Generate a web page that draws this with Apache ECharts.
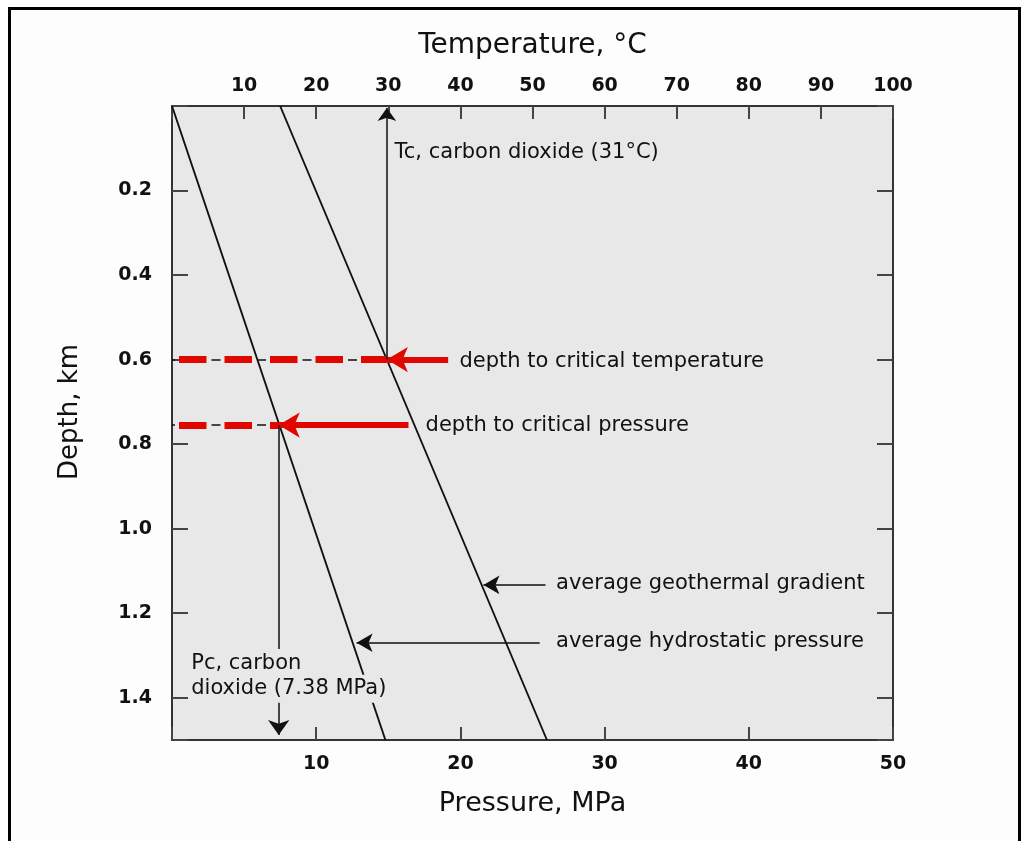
<!DOCTYPE html>
<html>
<head>
<meta charset="utf-8">
<script src="https://cdn.jsdelivr.net/npm/echarts@6/dist/echarts.min.js"></script>
<style>
html,body{margin:0;padding:0;background:#ffffff;}
#frame{position:absolute;left:8px;top:7px;width:1007px;height:900px;border:3px solid #000;border-bottom:none;background:#fdfdfd;}
#chart{position:absolute;left:0;top:0;width:1029px;height:841px;}
</style>
</head>
<body>
<div id="frame"></div>
<div id="chart"></div>
<script>
// ---------- data ----------
const pressureRange = [0, 50];          // MPa (bottom axis)
const pressureStep = 10;
const pressureLabels = [10, 20, 30, 40, 50];
const temperatureRange = [0, 100];      // °C (top axis)
const temperatureStep = 10;
const temperatureLabels = [10, 20, 30, 40, 50, 60, 70, 80, 90, 100];
const depthRange = [0, 1.5];            // km (left axis, downward)
const depthStep = 0.2;
const depthLabels = ['0.2', '0.4', '0.6', '0.8', '1.0', '1.2', '1.4'];

// average hydrostatic pressure line (pressure vs depth)
const hydroPressure = [0, 14.8];
const hydroDepth = [0, 1.5];
// average geothermal gradient line (temperature vs depth)
const geoTemperature = [15, 52];
const geoDepth = [0, 1.5];

// critical temperature crossing
const tcTemperature = 29.8;
const tcDepth = 0.6;
// critical pressure crossing
const pcPressure = 7.4;
const pcDepth = 0.755;

// red arrows (start -> tip)
const redArrowTemperature = [38.3, 29.8];   // at depth tcDepth, temperature axis
const redArrowPressure = [16.4, 7.4];       // at depth pcDepth, pressure axis
// black arrows
const tcArrowDepth = [0.6, 0.005];          // vertical at tcTemperature
const pcArrowDepth = [0.755, 1.488];        // vertical at pcPressure
const geoArrowPressure = [25.9, 21.6];
const geoArrowDepth = 1.133;
const hydroArrowPressure = [25.5, 12.8];
const hydroArrowDepth = 1.27;

// annotation texts and their anchors (pressure, depth)
const noteTexts = [
  'Tc, carbon dioxide (31°C)',
  'depth to critical temperature',
  'depth to critical pressure',
  'average geothermal gradient',
  'average hydrostatic pressure'
];
const notePressure = [15.4, 19.9, 17.55, 26.6, 26.6];
const noteDepth = [0.111, 0.605, 0.757, 1.131, 1.268];
const pcNoteTexts = ['Pc, carbon', 'dioxide (7.38 MPa)'];
const pcNotePressure = [1.3, 1.3];
const pcNoteDepth = [1.318, 1.379];

// ---------- chart ----------
const FONT = 'DejaVu Sans';
const INK = '#111111';
const AXIS = '#333333';
const RED = '#e10600';

const chart = echarts.init(document.getElementById('chart'), null, {renderer: 'canvas'});

function axisCommon(extra) {
  return Object.assign({
    type: 'value',
    axisLine: {show: true, onZero: false, lineStyle: {color: AXIS, width: 2}},
    axisTick: {show: true, inside: true, length: 13, lineStyle: {color: '#444', width: 2}},
    splitLine: {show: false},
    nameMoveOverlap: false,
    nameLocation: 'middle'
  }, extra);
}
const labelStyle = {fontFamily: FONT, fontWeight: 'bold', fontSize: 19, color: INK};

function pair(a, b) { return [{coord: a}, {coord: b}]; }
const arrowEnd = (size) => ({symbol: 'arrow', symbolSize: size});

const option = {
  animation: false,
  grid: {left: 172, top: 106, width: 721, height: 634, show: true, backgroundColor: '#e8e8e8', borderWidth: 0},
  xAxis: [
    axisCommon({
      position: 'bottom', min: pressureRange[0], max: pressureRange[1], interval: pressureStep,
      name: 'Pressure, MPa', nameGap: 50,
      nameTextStyle: {fontFamily: FONT, fontSize: 27, color: INK},
      axisLabel: Object.assign({margin: 15, formatter: v => pressureLabels.includes(Math.round(v)) ? String(Math.round(v)) : ''}, labelStyle)
    }),
    axisCommon({
      position: 'top', min: temperatureRange[0], max: temperatureRange[1], interval: temperatureStep,
      name: 'Temperature, °C', nameGap: 46,
      nameTextStyle: {fontFamily: FONT, fontSize: 28, color: INK},
      axisLabel: Object.assign({margin: 10, formatter: v => temperatureLabels.includes(Math.round(v)) ? String(Math.round(v)) : ''}, labelStyle)
    })
  ],
  yAxis: [
    axisCommon({
      position: 'left', inverse: true, min: depthRange[0], max: depthRange[1], interval: depthStep,
      name: 'Depth, km', nameGap: 89, nameRotate: 90,
      nameTextStyle: {fontFamily: FONT, fontSize: 26, color: INK, padding: [0, 0, 0, 22]},
      axisTick: {show: true, inside: true, length: 16, lineStyle: {color: '#444', width: 2}},
      axisLabel: Object.assign({margin: 20, formatter: v => { const s = v.toFixed(1); return depthLabels.includes(s) ? s : ''; }}, labelStyle)
    }),
    axisCommon({
      position: 'right', inverse: true, min: depthRange[0], max: depthRange[1], interval: depthStep,
      axisTick: {show: true, inside: true, length: 16, lineStyle: {color: '#444', width: 2}},
      axisLabel: {show: false}
    })
  ],
  series: [
    {
      name: 'hydrostatic', type: 'line', xAxisIndex: 0, yAxisIndex: 0, z: 3,
      data: hydroPressure.map((p, i) => [p, hydroDepth[i]]),
      symbol: 'none', lineStyle: {color: '#111', width: 1.9}, silent: true
    },
    {
      name: 'geothermal', type: 'line', xAxisIndex: 1, yAxisIndex: 0, z: 3,
      data: geoTemperature.map((t, i) => [t, geoDepth[i]]),
      symbol: 'none', lineStyle: {color: '#111', width: 1.9}, silent: true
    },
    // thin black dashed guides (under the red dashes)
    {
      type: 'line', xAxisIndex: 1, yAxisIndex: 0, data: [], z: 4, silent: true,
      markLine: {silent: true, symbol: ['none', 'none'], label: {show: false},
        lineStyle: {color: '#111', width: 1.5, type: [9, 13.75], dashOffset: 6},
        data: [pair([temperatureRange[0], tcDepth], [tcTemperature, tcDepth])]}
    },
    {
      type: 'line', xAxisIndex: 0, yAxisIndex: 0, data: [], z: 4, silent: true,
      markLine: {silent: true, symbol: ['none', 'none'], label: {show: false},
        lineStyle: {color: '#111', width: 1.5, type: [9, 13.75], dashOffset: 6},
        data: [pair([pressureRange[0], pcDepth], [pcPressure, pcDepth])]}
    },
    // red dashes
    {
      type: 'line', xAxisIndex: 1, yAxisIndex: 0, data: [], z: 5, silent: true,
      markLine: {silent: true, symbol: ['none', 'none'], label: {show: false},
        lineStyle: {color: RED, width: 7, type: [27.5, 18], dashOffset: 38.5, cap: 'butt'},
        data: [pair([temperatureRange[0], tcDepth], [tcTemperature, tcDepth])]}
    },
    {
      type: 'line', xAxisIndex: 0, yAxisIndex: 0, data: [], z: 5, silent: true,
      markLine: {silent: true, symbol: ['none', 'none'], label: {show: false},
        lineStyle: {color: RED, width: 7, type: [27.5, 18], dashOffset: 38.5, cap: 'butt'},
        data: [pair([pressureRange[0], pcDepth], [pcPressure, pcDepth])]}
    },
    // red arrows
    {
      type: 'line', xAxisIndex: 1, yAxisIndex: 0, data: [], z: 6, silent: true,
      markLine: {silent: true, symbol: ['none', 'arrow'], label: {show: false},
        lineStyle: {color: RED, width: 6, type: 'solid', cap: 'butt'},
        data: [[{coord: [redArrowTemperature[0], tcDepth]}, Object.assign({coord: [redArrowTemperature[1], tcDepth]}, arrowEnd([19, 21]))]]}
    },
    {
      type: 'line', xAxisIndex: 0, yAxisIndex: 0, data: [], z: 6, silent: true,
      markLine: {silent: true, symbol: ['none', 'arrow'], label: {show: false},
        lineStyle: {color: RED, width: 6, type: 'solid', cap: 'butt'},
        data: [[{coord: [redArrowPressure[0], pcDepth]}, Object.assign({coord: [redArrowPressure[1], pcDepth]}, arrowEnd([19, 21]))]]}
    },
    // black arrow on temperature axis
    {
      type: 'line', xAxisIndex: 1, yAxisIndex: 0, data: [], z: 6, silent: true,
      markLine: {silent: true, symbol: ['none', 'arrow'], label: {show: false},
        lineStyle: {color: '#111', width: 1.5, type: 'solid'},
        data: [[{coord: [tcTemperature, tcArrowDepth[0]]}, Object.assign({coord: [tcTemperature, tcArrowDepth[1]]}, arrowEnd([14, 13]))]]}
    },
    // black arrows on pressure axis
    {
      type: 'line', xAxisIndex: 0, yAxisIndex: 0, data: [], z: 6, silent: true,
      markLine: {silent: true, symbol: ['none', 'arrow'], label: {show: false},
        lineStyle: {color: '#111', width: 1.5, type: 'solid'},
        data: [
          [{coord: [pcPressure, pcArrowDepth[0]]}, Object.assign({coord: [pcPressure, pcArrowDepth[1]]}, arrowEnd([16, 15]))],
          [{coord: [geoArrowPressure[0], geoArrowDepth]}, Object.assign({coord: [geoArrowPressure[1], geoArrowDepth]}, arrowEnd([14, 16]))],
          [{coord: [hydroArrowPressure[0], hydroArrowDepth]}, Object.assign({coord: [hydroArrowPressure[1], hydroArrowDepth]}, arrowEnd([14, 16]))]
        ]}
    },
    // annotation texts
    {
      type: 'line', xAxisIndex: 0, yAxisIndex: 0, data: [], z: 10, silent: true,
      markPoint: {
        silent: true, symbol: 'circle', symbolSize: 1, itemStyle: {color: 'rgba(0,0,0,0)'},
        label: {show: true, position: 'right', distance: 0, formatter: '{b}', fontFamily: FONT, fontSize: 21, color: INK},
        data: noteTexts.map((t, i) => ({name: t, coord: [notePressure[i], noteDepth[i]]}))
          .concat(pcNoteTexts.map((t, i) => ({
            name: t, coord: [pcNotePressure[i], pcNoteDepth[i]],
            label: {backgroundColor: '#e8e8e8', padding: [4, 2, 3, 0]}
          })))
      }
    }
  ]
};
chart.setOption(option);
</script>
</body>
</html>
